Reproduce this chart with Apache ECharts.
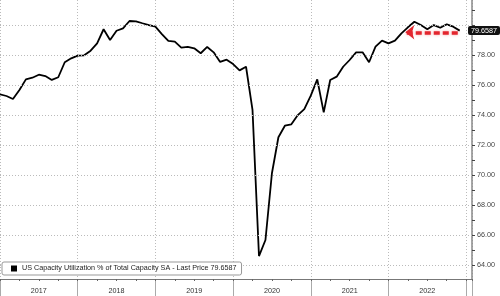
<!DOCTYPE html>
<html>
<head>
<meta charset="utf-8">
<script src="https://cdn.jsdelivr.net/npm/echarts@6/dist/echarts.min.js"></script>
<style>html,body{margin:0;padding:0;background:#fff}#c{width:500px;height:296px}</style>
</head>
<body>
<div id="c"></div>
<script>
// Monthly index (0 = first month of 2017)
var years = ['2017', '2018', '2019', '2020', '2021', '2022'];
var values = [
  75.41, 75.30, 75.10, 75.70, 76.41, 76.52, 76.72, 76.63, 76.37, 76.55, 77.55, 77.81,
  77.99, 78.01, 78.32, 78.81, 79.75, 79.03, 79.65, 79.81, 80.30, 80.28, 80.15, 80.03,
  79.92, 79.43, 78.97, 78.92, 78.52, 78.57, 78.48, 78.15, 78.57, 78.21, 77.57, 77.72,
  77.43, 77.01, 77.25, 74.37, 64.63, 65.70, 70.15, 72.55, 73.32, 73.41, 74.03, 74.43,
  75.32, 76.41, 74.21, 76.37, 76.59, 77.25, 77.70, 78.21, 78.21, 77.55, 78.59, 78.99,
  78.81, 78.99, 79.48, 79.88, 80.25, 80.03, 79.75, 80.03, 79.85, 80.08, 79.92, 79.6587
];
var yTickLabels = [64, 66, 68, 70, 72, 74, 76, 78];
var yGridValues = [64, 66, 68, 70, 72, 74, 76, 78, 80];
var yMinorTicks = [64, 65, 66, 67, 68, 69, 70, 71, 72, 73, 74, 75, 76, 77, 78, 79, 80, 81];
var arrowFrom = [70.7, 79.55];
var arrowTo = [62.6, 79.55];
var seriesName = 'US Capacity Utilization % of Total Capacity SA';
var lastPrice = values[values.length - 1];

var lineData = values.map(function (v, i) { return [i, v]; });

var chart = echarts.init(document.getElementById('c'), null, { renderer: 'canvas' });
var xBase = { type: 'value', min: 0, max: 72.9, position: 'bottom' };
chart.setOption({
  animation: false,
  backgroundColor: '#fff',
  grid: { left: 0, right: 28, top: 0, bottom: 17 },
  legend: {
    data: [seriesName],
    left: 2, top: 262, z: 20,
    padding: [3, 5, 3, 9],
    itemWidth: 6, itemHeight: 6, icon: 'rect',
    borderColor: '#999', borderWidth: 1, borderRadius: 2,
    backgroundColor: '#fff',
    textStyle: { fontSize: 7.2, color: '#222', fontFamily: 'Liberation Sans' },
    formatter: function (n) { return n + ' - Last Price ' + lastPrice; }
  },
  xAxis: [
    Object.assign({}, xBase, {
      interval: 12,
      axisLine: { show: true, onZero: false, lineStyle: { color: '#777', width: 1 } },
      axisTick: { show: true, length: 18, lineStyle: { color: '#aaa' } },
      axisLabel: { show: false },
      splitLine: { show: true, lineStyle: { color: '#bbb', type: [1, 2], width: 1 } }
    }),
    Object.assign({}, xBase, {
      interval: 3,
      axisLine: { show: false, onZero: false },
      axisTick: { show: true, length: 2, lineStyle: { color: '#666' } },
      axisLabel: { show: false },
      splitLine: { show: false }
    }),
    Object.assign({}, xBase, {
      interval: 6,
      axisLine: { show: false, onZero: false },
      axisTick: { show: false },
      axisLabel: {
        show: true, margin: 9, fontSize: 7.2, color: '#333', fontFamily: 'Liberation Sans',
        showMinLabel: false, showMaxLabel: false,
        formatter: function (v) { return (v % 12 === 6) ? years[(v - 6) / 12] : ''; }
      },
      splitLine: { show: false }
    })
  ],
  yAxis: {
    type: 'value', position: 'right', min: 63.1, max: 81.7,
    axisLine: { show: true, onZero: false, lineStyle: { color: '#888', width: 1.5 } },
    axisTick: { show: true, customValues: yMinorTicks, length: 3, lineStyle: { color: '#444' } },
    axisLabel: {
      customValues: yTickLabels, margin: 5, fontSize: 7.2, color: '#444', fontFamily: 'Liberation Sans',
      formatter: function (v) { return v.toFixed(2); }
    },
    splitLine: { show: false },
    axisPointer: {
      show: true, status: 'show', value: lastPrice, type: 'line',
      lineStyle: { opacity: 0 },
      triggerTooltip: false,
      label: {
        show: true, backgroundColor: '#111', color: '#fff', fontSize: 7.2,
        padding: [1, 3, 1, 3], borderRadius: 2, margin: 0,
        fontFamily: 'Liberation Sans',
        formatter: function () { return String(lastPrice); }
      }
    }
  },
  series: [{
    name: 'grid', type: 'line', data: [], silent: true,
    markLine: {
      silent: true, symbol: ['none', 'none'], label: { show: false },
      lineStyle: { color: '#bbb', type: [1, 2], width: 1 },
      data: yGridValues.map(function (v) { return { yAxis: v }; })
    }
  }, {
    name: seriesName, type: 'line', data: lineData,
    showSymbol: false, symbol: 'none',
    lineStyle: { color: '#000', width: 1.8 },
    itemStyle: { color: '#000' },
    markLine: {
      silent: true, symbol: ['none', 'arrow'], symbolSize: [11, 9],
      label: { show: false },
      lineStyle: { color: '#e3262e', type: [6, 3], width: 3.5, shadowColor: 'rgba(230,60,60,0.45)', shadowBlur: 3 },
      data: [[{ coord: arrowFrom }, { coord: arrowTo }]]
    }
  }]
});
</script>
</body>
</html>
